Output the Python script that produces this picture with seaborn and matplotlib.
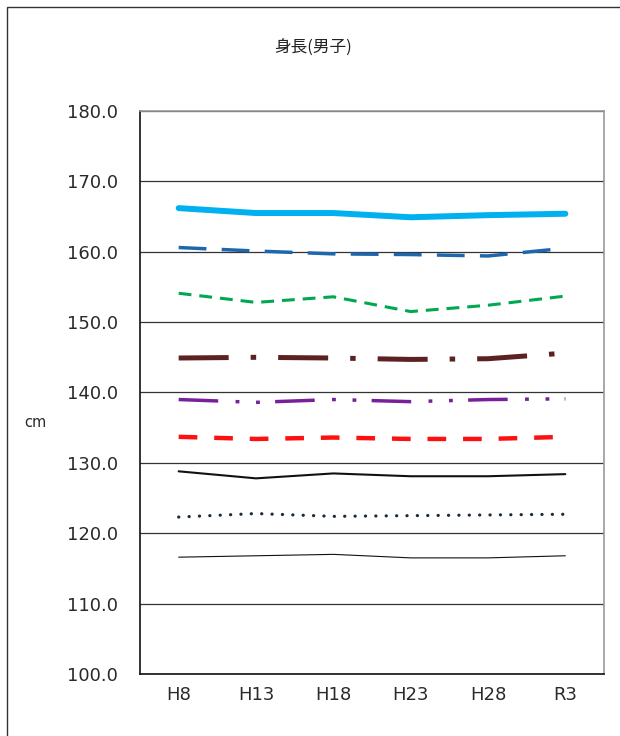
import matplotlib
matplotlib.use("Agg")
import matplotlib.pyplot as plt
import seaborn as sns
import pandas as pd
from matplotlib.patches import Rectangle

sns.set_theme(style="white")
plt.rcParams['font.family'] = ['Noto Sans CJK JP', 'DejaVu Sans']

# Data
years = ["H8", "H13", "H18", "H23", "H28", "R3"]
age14 = [166.2, 165.5, 165.5, 164.9, 165.2, 165.4]
age13 = [160.6, 160.1, 159.7, 159.6, 159.4, 160.5]
age12 = [154.1, 152.8, 153.6, 151.5, 152.4, 153.7]
age11 = [144.9, 145.0, 144.9, 144.7, 144.8, 145.6]
age10 = [139.0, 138.6, 139.0, 138.7, 139.0, 139.1]
age9 = [133.7, 133.4, 133.6, 133.4, 133.4, 133.7]
age8 = [128.8, 127.8, 128.5, 128.1, 128.1, 128.4]
age7 = [122.3, 122.8, 122.4, 122.5, 122.6, 122.7]
age6 = [116.6, 116.8, 117.0, 116.5, 116.5, 116.8]
yticks = [100, 110, 120, 130, 140, 150, 160, 170, 180]

series = {"14": age14, "13": age13, "12": age12, "11": age11, "10": age10,
          "9": age9, "8": age8, "7": age7, "6": age6}

# line styles: color, width (pt), dash pattern (in linewidth units), capstyle
styles = {
    "14": ("#00B0F0", 4.3, None, "butt"),
    "13": ("#1F67AD", 2.5, (8, 4.4), "butt"),
    "12": ("#00A850", 2.2, (4.2, 2.6), "butt"),
    "11": ("#5C2222", 3.6, (10, 4.4, 1.1, 4.4), "butt"),
    "10": ("#7A1F9A", 2.5, (11.4, 5.0, 1.1, 4.8, 1.1, 4.4), "butt"),
    "9": ("#FF1010", 3.2, (4.2, 3.8), "butt"),
    "8": ("#111111", 1.5, None, "butt"),
    "7": ("#1A2A3A", 2.3, (0.05, 3.2), "round"),
    "6": ("#111111", 0.8, None, "butt"),
}

df = pd.DataFrame([(age, yr, v) for age, vals in series.items() for yr, v in zip(years, vals)],
                  columns=["age", "year", "height"])

fig = plt.figure(figsize=(6.2, 7.36), dpi=100)
ax = fig.add_axes([140 / 620, 1 - 674 / 736, 464 / 620, 563 / 736])

for age in series:
    color, lw, dashes, cap = styles[age]
    sub = df[df["age"] == age]
    sns.lineplot(data=sub, x="year", y="height", ax=ax, color=color, lw=lw, sort=False,
                 errorbar=None)
    line = ax.lines[-1]
    if dashes is not None:
        line.set_dashes(dashes)
        line.set_dash_capstyle(cap)

ax.set_xlim(-0.5, 5.5)
ax.set_ylim(100, 180)
ax.set_yticks(yticks)
ax.set_yticklabels([f"{v:.1f}" for v in yticks], family="DejaVu Sans")
ax.yaxis.grid(True, color="#333333", lw=0.9)
ax.tick_params(axis="y", length=0, pad=16, labelsize=13, labelcolor="#2a2a2a")

ax.set_xticks([0.5, 1.5, 2.5, 3.5, 4.5])
ax.set_xticklabels([])
ax.set_xticks(range(len(years)), minor=True)
ax.set_xticklabels(years, minor=True, family="DejaVu Sans")
ax.tick_params(axis="x", which="major", direction="in", length=4, width=0.9, color="#222222")
ax.tick_params(axis="x", which="minor", length=0, pad=9, labelsize=13, labelcolor="#2a2a2a")
ax.set_xlabel("")
ax.set_ylabel("")

for side in ["left", "bottom"]:
    ax.spines[side].set_color("#111111")
    ax.spines[side].set_linewidth(1.2)
for side in ["top", "right"]:
    ax.spines[side].set_color("#999999")
    ax.spines[side].set_linewidth(1.2)

fig.text(313 / 620, 1 - 47 / 736, "身長(男子)", ha="center", va="center", fontsize=12,
         color="#222222")
fig.text(35 / 620, 1 - 422 / 736, "cm", ha="center", va="center", fontsize=10.5,
         color="#2a2a2a", family="DejaVu Sans")

# outer chart border (cropped at right and bottom)
fig.patches.append(Rectangle((7 / 620, -0.1), 1.2, 1.1 - 7 / 736, transform=fig.transFigure,
                             fill=False, edgecolor="#333333", lw=1.0))

fig.savefig("out.png", dpi=100)
